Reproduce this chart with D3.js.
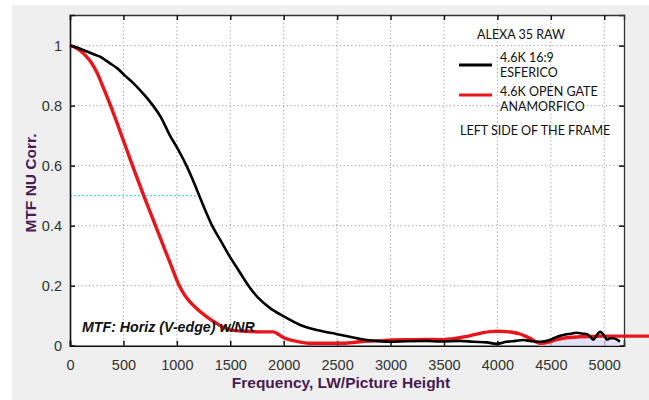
<!DOCTYPE html>
<html><head><meta charset="utf-8">
<script src="https://cdn.jsdelivr.net/npm/d3@7/dist/d3.min.js"></script>
<style>body{margin:0;background:#fff}svg{display:block}</style>
</head><body>
<svg id="c" width="649" height="400"></svg>
<script>
// ---- data ----
const xTicks = [0,500,1000,1500,2000,2500,3000,3500,4000,4500,5000];
const yTicks = [0,0.2,0.4,0.6,0.8,1];
const yTickLabels = ["0","0.2","0.4","0.6","0.8","1"];
const seriesNames = ["4.6K 16:9|ESFERICO","4.6K OPEN GATE|ANAMORFICO"];
const esferico = [
 [0,1],[70,0.993],[140,0.983],[210,0.973],[281,0.963],[374,0.941],[440,0.925],[515,0.9],[590,0.876],
 [655,0.852],[720,0.826],[777,0.8],[850,0.762],[936,0.7],[1010,0.655],[1090,0.6],[1150,0.552],
 [1210,0.5],[1270,0.448],[1330,0.4],[1410,0.35],[1490,0.3],[1580,0.25],[1670,0.2],[1760,0.16],
 [1870,0.126],[2000,0.098],[2150,0.07],[2300,0.053],[2450,0.042],[2550,0.035],[2650,0.027],
 [2777,0.019],[2900,0.015],[2995,0.013],[3150,0.015],[3338,0.016],[3463,0.014],[3650,0.016],
 [3774,0.013],[3900,0.011],[3993,0.006],[4086,0.013],[4170,0.016],[4242,0.019],[4320,0.015],
 [4398,0.013],[4492,0.019],[4560,0.03],[4617,0.036],[4690,0.04],[4741,0.043],[4800,0.04],
 [4835,0.039],[4870,0.03],[4898,0.02],[4930,0.035],[4960,0.046],[4985,0.04],[5006,0.03],
 [5025,0.02],[5050,0.024],[5085,0.025],[5120,0.02],[5147,0.013]
];
const anamorfico = [
 [0,1],[50,0.994],[100,0.982],[150,0.965],[200,0.943],[250,0.912],[312,0.86],[374,0.805],
 [427,0.755],[480,0.703],[532,0.652],[585,0.6],[637,0.55],[690,0.5],[745,0.45],[800,0.4],
 [855,0.35],[910,0.3],[965,0.25],[1020,0.202],[1070,0.17],[1123,0.146],[1190,0.122],[1265,0.1],
 [1320,0.086],[1373,0.074],[1430,0.062],[1497,0.053],[1600,0.049],[1716,0.047],[1800,0.046],
 [1903,0.046],[1950,0.038],[1996,0.027],[2100,0.016],[2246,0.008],[2400,0.008],[2558,0.008],
 [2714,0.013],[2870,0.016],[3026,0.019],[3180,0.02],[3338,0.021],[3463,0.02],[3619,0.025],
 [3700,0.03],[3774,0.036],[3850,0.042],[3930,0.047],[4000,0.048],[4086,0.047],[4150,0.044],
 [4211,0.039],[4260,0.032],[4305,0.025],[4350,0.015],[4398,0.008],[4440,0.009],[4492,0.013],
 [4550,0.02],[4617,0.025],[4700,0.028],[4773,0.03],[4900,0.031],[5022,0.032],[5200,0.032],
 [5334,0.032],[5420,0.032]
];
const noiseFill = [
 [4380,0.008],[4492,0.012],[4600,0.02],[4700,0.026],[4800,0.028],[4900,0.022],[5000,0.02],[5100,0.015],[5150,0.01]
];
const halfLevel = 0.5, halfEnd = 1180;

// ---- layout ----
const svg = d3.select("#c");
const L=70, R=624, T=15, B=345.7;
const x = d3.scaleLinear().domain([0,5185]).range([L,R]);
const y = d3.scaleLinear().domain([0,1.102]).range([B,T]);

svg.append("rect").attr("x",12).attr("y",5).attr("width",637).attr("height",395).attr("fill","#efefef");
svg.append("rect").attr("x",L).attr("y",T).attr("width",R-L).attr("height",B-T).attr("fill","#fff");

const grid = svg.append("g").attr("stroke","#9a9a9a").attr("stroke-width",1).attr("stroke-dasharray","1.2,2.6");
grid.selectAll(".gx").data(xTicks.filter(d=>d>0)).join("line")
  .attr("x1",d=>x(d)).attr("x2",d=>x(d)).attr("y1",T).attr("y2",B);
grid.selectAll(".gy").data(yTicks.filter(d=>d>0)).join("line")
  .attr("y1",d=>y(d)).attr("y2",d=>y(d)).attr("x1",L).attr("x2",R);

// cyan half line
svg.append("line").attr("x1",x(0)).attr("x2",x(halfEnd)).attr("y1",y(halfLevel)).attr("y2",y(halfLevel))
  .attr("stroke","#40e0e8").attr("stroke-width",1.4).attr("stroke-dasharray","2,2");

// axes
const tickFont = "Liberation Sans, Arial, sans-serif";
const xb = svg.append("g").attr("transform",`translate(0,${B})`)
  .call(d3.axisBottom(x).tickValues(xTicks).tickSize(-5).tickPadding(11).tickFormat(d3.format("d")));
const xt = svg.append("g").attr("transform",`translate(0,${T})`)
  .call(d3.axisTop(x).tickValues(xTicks).tickSize(-5).tickFormat(""));
const yl = svg.append("g").attr("transform",`translate(${L},0)`)
  .call(d3.axisLeft(y).tickValues(yTicks).tickSize(-5).tickPadding(8).tickFormat((d,i)=>yTickLabels[i]));
const yr = svg.append("g").attr("transform",`translate(${R},0)`)
  .call(d3.axisRight(y).tickValues(yTicks).tickSize(-5).tickFormat(""));
[xb,xt,yl,yr].forEach(g=>{
  g.select(".domain").attr("stroke","#111").attr("stroke-width",1.6);
  g.selectAll(".tick line").attr("stroke","#111").attr("stroke-width",1.5);
  g.selectAll("text").attr("fill","#333").style("font-family",tickFont).style("font-size","14.5px");
});
xt.select(".domain").attr("stroke","#333").attr("stroke-width",1.3);
yr.select(".domain").attr("stroke","#333").attr("stroke-width",1.3);
xb.selectAll("text").attr("dy","0.9em");

// noise fill
svg.append("path").datum(noiseFill)
  .attr("d",d3.area().x(d=>x(d[0])).y0(y(0)).y1(d=>y(d[1])).curve(d3.curveMonotoneX))
  .attr("fill","#dcdaf5").attr("opacity",0.8);

const line = d3.line().x(d=>x(d[0])).y(d=>y(d[1])).curve(d3.curveMonotoneX);
svg.append("path").datum(anamorfico).attr("d",line).attr("fill","none")
  .attr("stroke","#e8161c").attr("stroke-width",3.4).attr("stroke-linejoin","round");
svg.append("path").datum(esferico).attr("d",line).attr("fill","none")
  .attr("stroke","#000").attr("stroke-width",2.6).attr("stroke-linejoin","round");

// annotation
svg.append("text").attr("x",82).attr("y",331.5).text("MTF: Horiz (V-edge) w/NR")
  .style("font-family",tickFont).style("font-size","14.2px").style("font-weight","bold").style("font-style","italic").attr("fill","#111");

// axis labels
svg.append("text").attr("x",341).attr("y",387.5).attr("text-anchor","middle")
  .text("Frequency, LW/Picture Height")
  .style("font-family",tickFont).style("font-size","15.5px").style("font-weight","bold").attr("fill","#4a1a55");
svg.append("text").attr("transform","translate(35.5,183) rotate(-90)").attr("text-anchor","middle")
  .text("MTF  NU Corr.")
  .style("font-family",tickFont).style("font-size","15.5px").style("font-weight","bold").attr("fill","#4a1a55");

// legend
const lf = "Lato, Open Sans, sans-serif";
const leg = svg.append("g").style("font-family",lf).style("font-size","12.5px").attr("fill","#111");
leg.append("text").attr("x",477).attr("y",38.5).text("ALEXA 35 RAW");
const colors = ["#000","#e8161c"];
const legY = [65,95];
seriesNames.forEach((n,i)=>{
  leg.append("line").attr("x1",459).attr("x2",492).attr("y1",legY[i]).attr("y2",legY[i])
    .attr("stroke",colors[i]).attr("stroke-width",3.2);
  const parts = n.split("|");
  leg.append("text").attr("x",500).attr("y",[61.7,95.7][i]).text(parts[0]);
  leg.append("text").attr("x",500).attr("y",[77.3,111][i]).text(parts[1]);
});
leg.append("text").attr("x",460).attr("y",135).text("LEFT SIDE OF THE FRAME");
</script>
</body></html>
